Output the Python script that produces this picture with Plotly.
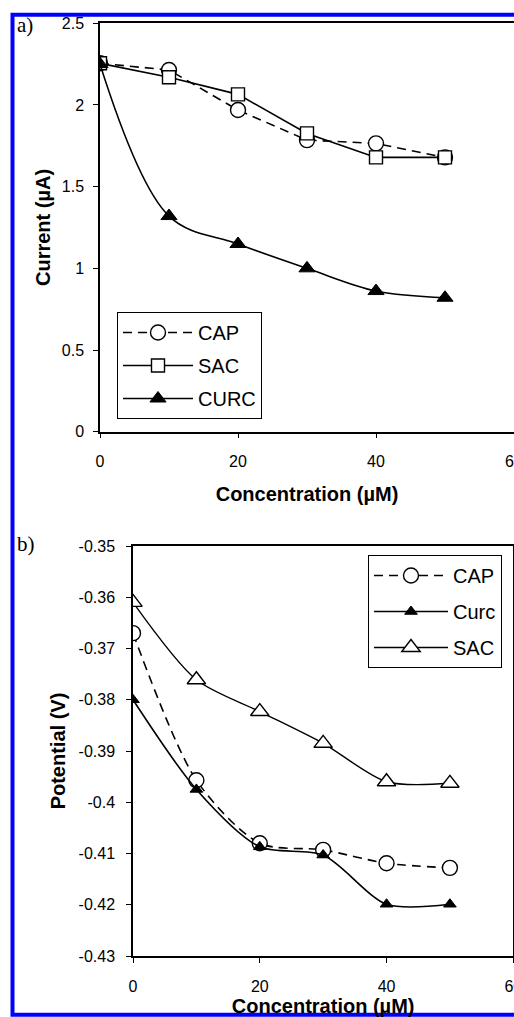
import plotly.graph_objects as go

W, H = 514, 1017

# ---------------- data ----------------
conc = [0, 10, 20, 30, 40, 50]

# panel a: current (uA)
cap_a = [2.255, 2.214, 1.969, 1.785, 1.765, 1.679]
sac_a = [2.255, 2.170, 2.065, 1.826, 1.679, 1.679]
curc_a = [2.250, 1.320, 1.149, 1.000, 0.861, 0.820]

# panel b: potential (V)
cap_b = [-0.367, -0.3957, -0.4080, -0.4093, -0.4119, -0.4128]
curc_b = [-0.380, -0.3975, -0.4087, -0.4103, -0.4199, -0.4199]
sac_b = [-0.361, -0.3761, -0.3823, -0.3885, -0.3960, -0.3963]

x_ticks = [0, 20, 40, 60]
x_ticklabels = ["0", "20", "40", "60"]
ya_ticks = [0, 0.5, 1, 1.5, 2, 2.5]
ya_ticklabels = ["0", "0.5", "1", "1.5", "2", "2.5"]
yb_ticks = [-0.43, -0.42, -0.41, -0.40, -0.39, -0.38, -0.37, -0.36, -0.35]
yb_ticklabels = ["-0.43", "-0.42", "-0.41", "-0.4", "-0.39", "-0.38", "-0.37", "-0.36", "-0.35"]

FONT = "Arial, Liberation Sans, sans-serif"
BLK = "black"

fig = go.Figure()

# ---------------- panel a ----------------
fig.add_trace(go.Scatter(x=conc, y=cap_a, name="CAP", mode="lines+markers",
    line=dict(color=BLK, width=1.6, dash="9px,6px"),
    marker=dict(symbol="circle", size=15, color="white", line=dict(color=BLK, width=1.4)),
    xaxis="x", yaxis="y", legend="legend", legendgroup="a1"))
fig.add_trace(go.Scatter(x=conc, y=sac_a, name="SAC", mode="lines+markers",
    line=dict(color=BLK, width=1.6),
    marker=dict(symbol="square", size=13, color="white", line=dict(color=BLK, width=1.4)),
    xaxis="x", yaxis="y", legend="legend", legendgroup="a2"))
fig.add_trace(go.Scatter(x=conc, y=curc_a, name="CURC", mode="lines+markers",
    line=dict(color=BLK, width=1.6, shape="spline", smoothing=1.0),
    marker=dict(symbol="triangle-up", size=14, color=BLK, line=dict(color=BLK, width=1)),
    xaxis="x", yaxis="y", legend="legend", legendgroup="a3"))

# ---------------- panel b ----------------
fig.add_trace(go.Scatter(x=conc, y=cap_b, name="CAP", mode="lines+markers",
    line=dict(color=BLK, width=1.6, dash="9px,6px", shape="spline", smoothing=0.8),
    marker=dict(symbol="circle", size=15, color="white", line=dict(color=BLK, width=1.4)),
    xaxis="x2", yaxis="y2", legend="legend2", legendgroup="b1"))
fig.add_trace(go.Scatter(x=conc, y=curc_b, name="Curc", mode="lines+markers",
    line=dict(color=BLK, width=1.6, shape="spline", smoothing=0.8),
    marker=dict(symbol="triangle-up", size=11, color=BLK, line=dict(color=BLK, width=1)),
    xaxis="x2", yaxis="y2", legend="legend2", legendgroup="b2"))
fig.add_trace(go.Scatter(x=conc, y=sac_b, name="SAC", mode="lines+markers",
    line=dict(color=BLK, width=1.4, shape="spline", smoothing=0.8),
    marker=dict(symbol="triangle-up", size=16, color="white", line=dict(color=BLK, width=1.4)),
    xaxis="x2", yaxis="y2", legend="legend2", legendgroup="b3"))

axis_common = dict(showline=True, linecolor=BLK, linewidth=1.5, mirror=True,
                   showgrid=False, zeroline=False, ticks="outside", ticklen=5,
                   tickcolor=BLK, tickwidth=1, automargin=False,
                   tickfont=dict(family=FONT, size=16, color=BLK))
title_font = dict(family=FONT, size=20, color=BLK, weight="bold")

fig.update_layout(
    width=W, height=H, autosize=False,
    margin=dict(l=0, r=0, t=0, b=0, autoexpand=False),
    paper_bgcolor="white", plot_bgcolor="white",
    showlegend=True,
    xaxis=dict(domain=[100 / W, 1.0], range=[0, 60], anchor="y",
               tickmode="array", tickvals=x_ticks, ticktext=x_ticklabels,
               ticklabelstandoff=9, ticklabeloverflow="allow",
               title=dict(text="Concentration (µM)", font=title_font, standoff=18),
               **axis_common),
    yaxis=dict(domain=[1 - 431.7 / H, 1 - 23.3 / H], range=[0, 2.5], anchor="x",
               tickmode="array", tickvals=ya_ticks, ticktext=ya_ticklabels,
               ticklabelstandoff=6,
               title=dict(text="Current (µA)", font=title_font, standoff=6),
               **axis_common),
    xaxis2=dict(domain=[133 / W, 513.3 / W], range=[0, 60], anchor="y2",
                tickmode="array", tickvals=x_ticks, ticktext=x_ticklabels,
                ticklabelstandoff=10, ticklabeloverflow="allow",
                title=dict(text="Concentration (µM)", font=title_font, standoff=15),
                **axis_common),
    yaxis2=dict(domain=[1 - 956 / H, 1 - 546 / H], range=[-0.43, -0.35], anchor="x2",
                tickmode="array", tickvals=yb_ticks, ticktext=yb_ticklabels,
                ticklabelstandoff=8,
                title=dict(text="Potential (V)", font=title_font, standoff=8),
                **axis_common),
    legend=dict(x=117 / W, y=1 - 312 / H, xanchor="left", yanchor="top",
                bgcolor="white", bordercolor=BLK, borderwidth=1,
                font=dict(family=FONT, size=20, color=BLK),
                itemwidth=70, tracegroupgap=4, traceorder="grouped"),
    legend2=dict(x=368 / W, y=1 - 555 / H, xanchor="left", yanchor="top",
                 bgcolor="white", bordercolor=BLK, borderwidth=1,
                 font=dict(family=FONT, size=20, color=BLK),
                 itemwidth=74, tracegroupgap=7, traceorder="grouped"),
)

# panel letters
fig.add_annotation(x=15 / W, y=1 - 25 / H, xref="paper", yref="paper", text="a)",
                   showarrow=False, xanchor="left", yanchor="middle",
                   font=dict(family="Liberation Serif, Times New Roman, serif", size=21, color=BLK))
fig.add_annotation(x=15 / W, y=1 - 544 / H, xref="paper", yref="paper", text="b)",
                   showarrow=False, xanchor="left", yanchor="middle",
                   font=dict(family="Liberation Serif, Times New Roman, serif", size=21, color=BLK))

# blue frame: open on the right side (the reference is cropped there)
BLUE = "#0000ff"
xl, xr = 12.5 / W, 1.0
yt, yb = 1 - 14.8 / H, 1 - 1014.8 / H
fig.add_shape(type="path", xref="paper", yref="paper",
              path=f"M {xr},{yt} L {xl},{yt} L {xl},{yb} L {xr},{yb}",
              line=dict(color=BLUE, width=4), fillcolor="rgba(0,0,0,0)", layer="above")

fig.write_html("out.html")
